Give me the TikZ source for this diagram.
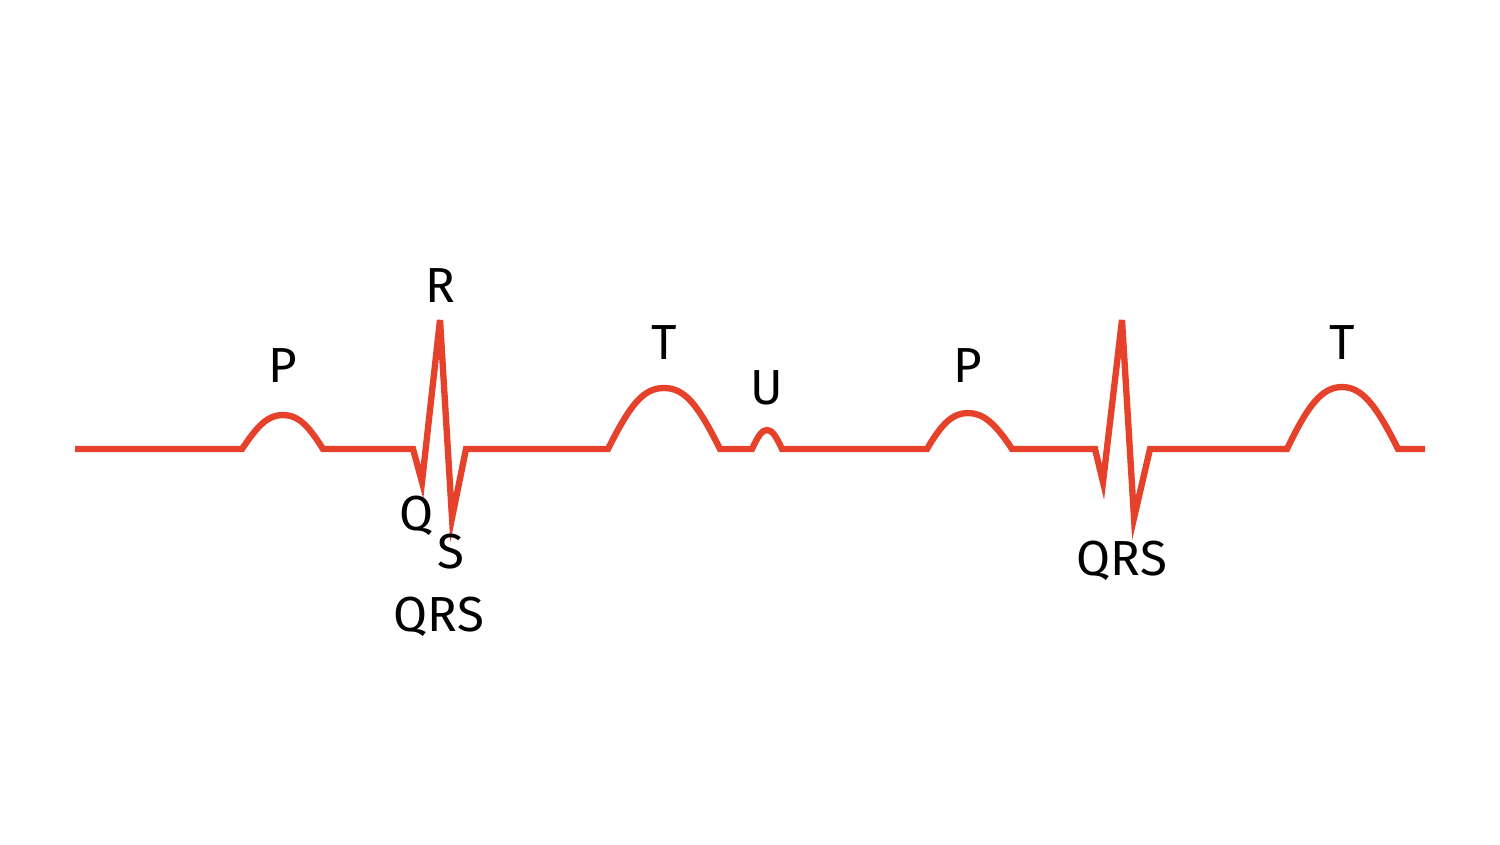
\documentclass[tikz,border=0pt]{standalone}
\usepackage{fontspec}
\setmainfont{Fira Sans}
\definecolor{ecg}{HTML}{E5412B}
\begin{document}
\begin{tikzpicture}[x=0.01cm,y=-0.01cm,
  lbl/.style={font=\fontsize{14}{16}\selectfont, text=black, inner sep=0pt},
  trace/.style={draw=ecg, line width=1.8pt, line join=miter}]
\useasboundingbox (0,0) rectangle (1500,844);
\draw[trace] (75,449) -- (242,449)
  .. controls (258,425) and (268,415) .. (283,415)
  .. controls (298,415) and (308,425) .. (323,449)
  -- (413,449) -- (422,482) -- (440,320) -- (452,518) -- (466,449) -- (608,449)
  .. controls (630,405) and (643,388) .. (664,388)
  .. controls (685,388) and (698,405) .. (720,449)
  -- (752,449)
  .. controls (758,436) and (762,430) .. (767,430)
  .. controls (772,430) and (776,436) .. (782,449)
  -- (927,449)
  .. controls (942,423) and (953,413) .. (968,413)
  .. controls (983,413) and (995,423) .. (1012,449)
  -- (1095,449) -- (1103,482) -- (1122,320) -- (1134,518) -- (1150,449) -- (1287,449)
  .. controls (1308,405) and (1322,387) .. (1342,387)
  .. controls (1362,387) and (1376,405) .. (1398,449)
  -- (1425,449);
\node[lbl] (p1) at (283,366) {P};
\node[lbl] (r1) at (440,286) {R};
\node[lbl] (t1) at (664,343) {T};
\node[lbl] (u1) at (767,388) {U};
\node[lbl] (p2) at (968,366) {P};
\node[lbl] (q1) at (417,516) {Q};
\node[lbl] (s1) at (451,552) {S};
\node[lbl] (qrs1) at (439,617) {QRS};
\node[lbl] (qrs2) at (1122,561) {QRS};
\node[lbl] (t2) at (1342,343) {T};
\end{tikzpicture}
\end{document}
